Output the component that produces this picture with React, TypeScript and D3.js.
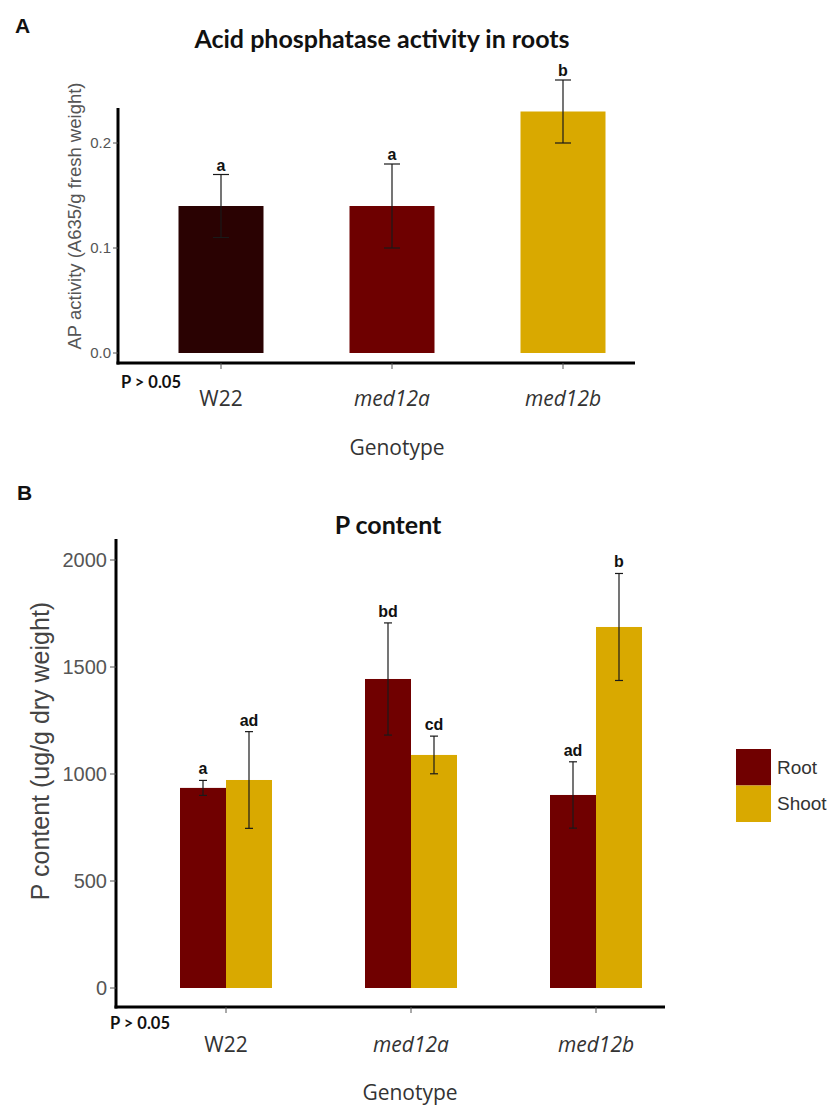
import React from "react";
import * as d3 from "d3";

// ---- Data ----
const genotypes = ["W22", "med12a", "med12b"];
const italicGenotype = [false, true, true];

// Panel A: acid phosphatase activity
const apMean = [0.14, 0.14, 0.23];
const apErr = [0.03, 0.04, 0.03];
const apLetters = ["a", "a", "b"];
const apColors = ["#2a0202", "#6e0000", "#d9a900"];
const apTicks = [0.0, 0.1, 0.2];

// Panel B: P content
const tissues = ["Root", "Shoot"];
const tissueColors = ["#700000", "#d9a900"];
const rootMean = [935, 1444, 902];
const rootErr = [35, 262, 155];
const shootMean = [972, 1089, 1687];
const shootErr = [226, 88, 250];
const rootLetters = ["a", "bd", "ad"];
const shootLetters = ["ad", "cd", "b"];
const pTicks = [0, 500, 1000, 1500, 2000];

const TITLE_FONT = "Lato, 'Open Sans', sans-serif";
const LABEL_FONT = "'Open Sans', Lato, sans-serif";
const AXIS_FONT = "'Liberation Sans', Arial, sans-serif";

export default function App() {
  // ---- Panel A scales ----
  const xA = d3.scalePoint<string>().domain(genotypes).range([221, 563]);
  const yA = d3.scaleLinear().domain([0, 0.2]).range([353, 143]);
  const barWA = 85;
  const axA = { left: 118, right: 635, top: 108, bottom: 363 };

  // ---- Panel B scales ----
  const xB = d3.scalePoint<string>().domain(genotypes).range([226, 596]);
  const subB = d3.scaleBand<string>().domain(tissues).range([-46, 46]).padding(0);
  const yB = d3.scaleLinear().domain([0, 2000]).range([988, 560]);
  const axB = { left: 116, right: 665, top: 539, bottom: 1007 };
  const legendY = d3.scaleBand<string>().domain(tissues).range([749, 822]).padding(0);

  const seriesB = [
    { name: "Root", mean: rootMean, err: rootErr, letters: rootLetters, color: tissueColors[0] },
    { name: "Shoot", mean: shootMean, err: shootErr, letters: shootLetters, color: tissueColors[1] },
  ];

  const errColor = "#1a1a1a";

  return (
    <svg
      width={835}
      height={1105}
      style={{ position: "absolute", left: 0, top: 0, background: "#fff" }}
    >
      <rect x={0} y={0} width={835} height={1105} fill="#fff" />

      {/* ================= Panel A ================= */}
      <text x={15} y={33} fontFamily={AXIS_FONT} fontWeight="bold" fontSize={21} fill="#111">A</text>
      <text x={382} y={48} textAnchor="middle" fontFamily={TITLE_FONT} fontWeight="bold" fontSize={25} fill="#111">
        Acid phosphatase activity in roots
      </text>

      {/* bars */}
      {genotypes.map((g, i) => (
        <rect
          key={"a-bar-" + g}
          x={(xA(g) as number) - barWA / 2}
          y={yA(apMean[i])}
          width={barWA}
          height={yA(0) - yA(apMean[i])}
          fill={apColors[i]}
        />
      ))}
      {/* error bars */}
      {genotypes.map((g, i) => {
        const cx = xA(g) as number;
        const yt = yA(apMean[i] + apErr[i]);
        const yb = yA(apMean[i] - apErr[i]);
        return (
          <g key={"a-err-" + g} stroke={errColor} strokeWidth={1.2}>
            <line x1={cx} x2={cx} y1={yt} y2={yb} />
            <line x1={cx - 8} x2={cx + 8} y1={yt} y2={yt} />
            <line x1={cx - 8} x2={cx + 8} y1={yb} y2={yb} />
          </g>
        );
      })}
      {/* letters */}
      {genotypes.map((g, i) => (
        <text
          key={"a-let-" + g}
          x={xA(g) as number}
          y={yA(apMean[i] + apErr[i]) - 4}
          textAnchor="middle"
          fontFamily={AXIS_FONT}
          fontWeight="bold"
          fontSize={16}
          fill="#111"
        >
          {apLetters[i]}
        </text>
      ))}

      {/* axes A */}
      <line x1={axA.left} x2={axA.left} y1={axA.top} y2={axA.bottom + 1.5} stroke="#000" strokeWidth={3} />
      <line x1={axA.left - 1.5} x2={axA.right} y1={axA.bottom} y2={axA.bottom} stroke="#000" strokeWidth={3} />
      {apTicks.map((t) => (
        <g key={"a-yt-" + t}>
          <line x1={axA.left - 5} x2={axA.left} y1={yA(t)} y2={yA(t)} stroke="#555" strokeWidth={1} />
          <text x={axA.left - 7} y={yA(t)} dy="0.35em" textAnchor="end" fontFamily={AXIS_FONT} fontSize={15} fill="#555">
            {d3.format(".1f")(t)}
          </text>
        </g>
      ))}
      {genotypes.map((g, i) => (
        <g key={"a-xt-" + g}>
          <line x1={xA(g) as number} x2={xA(g) as number} y1={axA.bottom} y2={axA.bottom + 6} stroke="#555" strokeWidth={1} />
          <text
            x={xA(g) as number}
            y={406}
            textAnchor="middle"
            fontFamily={LABEL_FONT}
            fontStyle={italicGenotype[i] ? "italic" : "normal"}
            fontSize={21}
            fill="#333"
          >
            {g}
          </text>
        </g>
      ))}
      <text x={121} y={388} fontFamily={TITLE_FONT} fontWeight="bold" fontSize={16.5} fill="#111">P &gt; 0.05</text>
      <text x={397} y={455} textAnchor="middle" fontFamily={LABEL_FONT} fontSize={21} fill="#333">Genotype</text>
      <text
        transform="translate(75,216) rotate(-90)"
        textAnchor="middle"
        dy="0.35em"
        fontFamily={AXIS_FONT}
        fontSize={18.5}
        fill="#555"
      >
        AP activity (A635/g fresh weight)
      </text>

      {/* ================= Panel B ================= */}
      <text x={17} y={500} fontFamily={AXIS_FONT} fontWeight="bold" fontSize={21} fill="#111">B</text>
      <text x={388} y={534} textAnchor="middle" fontFamily={TITLE_FONT} fontWeight="bold" fontSize={25} fill="#111">
        P content
      </text>

      {seriesB.map((s) =>
        genotypes.map((g, i) => (
          <rect
            key={"b-bar-" + s.name + g}
            x={(xB(g) as number) + (subB(s.name) as number)}
            y={yB(s.mean[i])}
            width={subB.bandwidth()}
            height={yB(0) - yB(s.mean[i])}
            fill={s.color}
          />
        ))
      )}
      {seriesB.map((s) =>
        genotypes.map((g, i) => {
          const cx = (xB(g) as number) + (subB(s.name) as number) + subB.bandwidth() / 2;
          const yt = yB(s.mean[i] + s.err[i]);
          const yb = yB(s.mean[i] - s.err[i]);
          return (
            <g key={"b-err-" + s.name + g} stroke={errColor} strokeWidth={1.2}>
              <line x1={cx} x2={cx} y1={yt} y2={yb} />
              <line x1={cx - 4} x2={cx + 4} y1={yt} y2={yt} />
              <line x1={cx - 4} x2={cx + 4} y1={yb} y2={yb} />
            </g>
          );
        })
      )}
      {seriesB.map((s) =>
        genotypes.map((g, i) => {
          const cx = (xB(g) as number) + (subB(s.name) as number) + subB.bandwidth() / 2;
          return (
            <text
              key={"b-let-" + s.name + g}
              x={cx}
              y={yB(s.mean[i] + s.err[i]) - 6}
              textAnchor="middle"
              fontFamily={AXIS_FONT}
              fontWeight="bold"
              fontSize={16}
              fill="#111"
            >
              {s.letters[i]}
            </text>
          );
        })
      )}

      {/* axes B */}
      <line x1={axB.left} x2={axB.left} y1={axB.top} y2={axB.bottom + 1.5} stroke="#000" strokeWidth={3} />
      <line x1={axB.left - 1.5} x2={axB.right} y1={axB.bottom} y2={axB.bottom} stroke="#000" strokeWidth={3} />
      {pTicks.map((t) => (
        <g key={"b-yt-" + t}>
          <line x1={axB.left - 6} x2={axB.left} y1={yB(t)} y2={yB(t)} stroke="#555" strokeWidth={1} />
          <text x={axB.left - 9} y={yB(t)} dy="0.35em" textAnchor="end" fontFamily={AXIS_FONT} fontSize={20} fill="#555">
            {t}
          </text>
        </g>
      ))}
      {genotypes.map((g, i) => (
        <g key={"b-xt-" + g}>
          <line x1={xB(g) as number} x2={xB(g) as number} y1={axB.bottom} y2={axB.bottom + 6} stroke="#555" strokeWidth={1} />
          <text
            x={xB(g) as number}
            y={1052}
            textAnchor="middle"
            fontFamily={LABEL_FONT}
            fontStyle={italicGenotype[i] ? "italic" : "normal"}
            fontSize={21}
            fill="#333"
          >
            {g}
          </text>
        </g>
      ))}
      <text x={110} y={1029} fontFamily={TITLE_FONT} fontWeight="bold" fontSize={16.5} fill="#111">P &gt; 0.05</text>
      <text x={410} y={1100} textAnchor="middle" fontFamily={LABEL_FONT} fontSize={21} fill="#333">Genotype</text>
      <text
        transform="translate(40,751) rotate(-90)"
        textAnchor="middle"
        dy="0.35em"
        fontFamily={AXIS_FONT}
        fontSize={25}
        fill="#444"
      >
        P content (ug/g dry weight)
      </text>

      {/* legend */}
      {tissues.map((t, i) => (
        <g key={"leg-" + t}>
          <rect x={736} y={legendY(t) as number} width={35} height={legendY.bandwidth()} fill={tissueColors[i]} />
          <text
            x={777}
            y={(legendY(t) as number) + legendY.bandwidth() / 2}
            dy="0.35em"
            fontFamily={AXIS_FONT}
            fontSize={19}
            fill="#333"
          >
            {t}
          </text>
        </g>
      ))}
    </svg>
  );
}
